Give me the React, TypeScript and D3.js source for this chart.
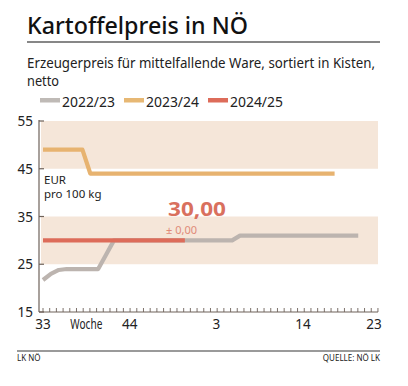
import * as d3 from "d3";

// week index 0 = KW 33, 20 = KW 1, 42 = KW 23
const xLabels = [
  { i: 0, t: "33" },
  { i: 5.5, t: "Woche" },
  { i: 11, t: "44" },
  { i: 22, t: "3" },
  { i: 33, t: "14" },
  { i: 42, t: "23" },
];
const yTicks = [15, 25, 35, 45, 55];
const bands = [
  [25, 35],
  [45, 55],
];

const series2223 = [
  21.7, 23, 23.8, 24, 24, 24, 24, 24, 27, 30, 30, 30, 30, 30, 30, 30, 30, 30, 30, 30,
  30, 30, 30, 30, 30, 31, 31, 31, 31, 31, 31, 31, 31, 31, 31, 31, 31, 31, 31, 31, 31,
];
const series2324 = [
  49, 49, 49, 49, 49, 49, 44, 44, 44, 44, 44, 44, 44, 44, 44, 44, 44, 44, 44, 44,
  44, 44, 44, 44, 44, 44, 44, 44, 44, 44, 44, 44, 44, 44, 44, 44, 44, 44,
];
const series2425 = [30, 30, 30, 30, 30, 30, 30, 30, 30, 30, 30, 30, 30, 30, 30, 30, 30, 30, 30];

const legend = [
  { label: "2022/23", color: "#bfbab6" },
  { label: "2023/24", color: "#e7b874" },
  { label: "2024/25", color: "#dd6c5a" },
];

const font = "'Noto Sans', 'DejaVu Sans Condensed', sans-serif";

export default function App() {
  const x = d3.scaleLinear().domain([0, 42]).range([43, 374]);
  const y = d3.scaleLinear().domain([15, 55]).range([312, 121]);
  const line = d3
    .line<number>()
    .x((_, i) => x(i))
    .y((d) => y(d));
  const minorTicks = d3.range(0, 42.6, 42.5 / 50);
  const lines = [
    { data: series2324, color: "#e7b370" },
    { data: series2223, color: "#bcb4af" },
    { data: series2425, color: "#dd6c5a" },
  ];

  return (
    <svg
      width={408}
      height={386}
      style={{ position: "absolute", left: 0, top: 0, background: "#fff" }}
      fontFamily={font}
    >
      <text x={27} y={34} fontSize={24} fontWeight={500} fill="#111" textLength={221} lengthAdjust="spacingAndGlyphs">
        Kartoffelpreis in NÖ
      </text>
      <line x1={27} x2={380} y1={42} y2={42} stroke="#111" strokeWidth={1.2} />
      <text x={27} y={68} fontSize={14.5} fill="#222" textLength={348} lengthAdjust="spacingAndGlyphs">
        Erzeugerpreis für mittelfallende Ware, sortiert in Kisten,
      </text>
      <text x={27} y={86} fontSize={14.5} fill="#222" textLength={32} lengthAdjust="spacingAndGlyphs">
        netto
      </text>

      {legend.map((l, i) => {
        const lx = [40, 124, 208][i];
        return (
          <g key={l.label}>
            <rect x={lx} y={98} width={20} height={4.5} fill={l.color} />
            <text x={lx + 22} y={107} fontSize={14} fill="#222" textLength={53} lengthAdjust="spacingAndGlyphs">
              {l.label}
            </text>
          </g>
        );
      })}

      {bands.map(([a, b]) => (
        <rect key={a} x={41} y={y(b)} width={378 - 41} height={y(a) - y(b)} fill="#f5e6d9" />
      ))}

      {lines.map((s, i) => (
        <path key={i} d={line(s.data) ?? ""} fill="none" stroke={s.color} strokeWidth={4.2} strokeLinejoin="round" />
      ))}

      <line x1={39} x2={39} y1={120} y2={312} stroke="#6e625a" strokeWidth={1.2} />
      <line x1={39} x2={378} y1={312} y2={312} stroke="#6e625a" strokeWidth={1.2} />
      {yTicks.map((t) => (
        <g key={t}>
          <line x1={39} x2={44} y1={y(t)} y2={y(t)} stroke="#6e625a" strokeWidth={1.2} />
          <text x={33} y={y(t)} dy="0.38em" textAnchor="end" fontSize={13.5} fill="#222">
            {t}
          </text>
        </g>
      ))}
      {minorTicks.map((t, i) => (
        <line key={i} x1={x(t)} x2={x(t)} y1={312} y2={308} stroke="#6e625a" strokeWidth={0.9} />
      ))}
      {xLabels.map((l) => (
        <text
          key={l.t}
          x={x(l.i)}
          y={329}
          textAnchor="middle"
          fontSize={13.5}
          fill="#222"
          {...(l.t === "Woche" ? { textLength: 32, lengthAdjust: "spacingAndGlyphs" } : {})}
        >
          {l.t}
        </text>
      ))}

      <text x={44} y={184} fontSize={11.5} fill="#222">
        EUR
      </text>
      <text x={44} y={198} fontSize={11.5} fill="#222">
        pro 100 kg
      </text>

      <text x={168} y={216} fontSize={20} fontWeight={700} fill="#d9705e" textLength={58} lengthAdjust="spacingAndGlyphs">
        30,00
      </text>
      <text x={166} y={234} fontSize={11} fill="#e08a78">
        ± 0,00
      </text>

      <line x1={17} x2={380} y1={351} y2={351} stroke="#9a9a9a" strokeWidth={2} />
      <text x={17} y={361} fontSize={8} fill="#222">
        LK NÖ
      </text>
      <text x={380} y={361} fontSize={8} fill="#222" textAnchor="end">
        QUELLE: NÖ LK
      </text>
    </svg>
  );
}
